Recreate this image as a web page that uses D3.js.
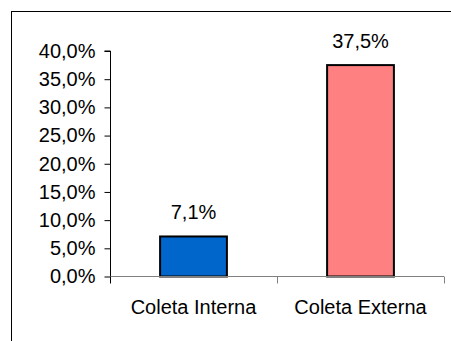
<!DOCTYPE html>
<html>
<head>
<meta charset="utf-8">
<script src="https://cdn.jsdelivr.net/npm/d3@7"></script>
<style>
  html, body { margin: 0; padding: 0; background: #fff; }
  svg { display: block; }
  text { font-family: "Liberation Sans", Arial, sans-serif; fill: #000; }
</style>
</head>
<body>
<svg id="chart" width="451" height="341"></svg>
<script>
const categories = ["Coleta Interna", "Coleta Externa"];
const values = [7.1, 37.5];
const barColors = ["#0066CC", "#FF8080"];
const yTicks = [0, 5, 10, 15, 20, 25, 30, 35, 40];

const W = 451, H = 341;
const svg = d3.select("#chart");
const fmt = v => d3.format(".1f")(v).replace(".", ",") + "%";

// outer frame (extends beyond the picture at right and bottom)
svg.append("rect")
  .attr("x", 11.5).attr("y", 11.5)
  .attr("width", 460).attr("height", 360)
  .attr("fill", "#fff").attr("stroke", "#000").attr("stroke-width", 1);

const plotLeft = 110, plotRight = 444, plotTop = 51, plotBottom = 276.5;

const y = d3.scaleLinear().domain([0, 40]).range([plotBottom, plotTop]);
const x = d3.scaleBand().domain(categories).range([plotLeft, plotRight])
  .paddingInner(0.6).paddingOuter(0.3);

// y axis
const yAxis = d3.axisLeft(y).tickValues(yTicks).tickFormat(fmt).tickSize(6).tickPadding(9);
const gy = svg.append("g").attr("transform", `translate(${plotLeft + 0.5},0)`).call(yAxis);
gy.select(".domain").attr("stroke", "#000").attr("d", `M-6,${y(40)}H0V${plotBottom}`);
gy.selectAll(".tick line").attr("stroke", "#000");
gy.selectAll(".tick text").attr("font-size", 20).attr("font-family", "Liberation Sans, Arial, sans-serif").attr("fill", "#000");

// bars
svg.append("g").selectAll("rect").data(values).join("rect")
  .attr("x", (d, i) => x(categories[i]))
  .attr("y", d => y(d))
  .attr("width", x.bandwidth())
  .attr("height", d => plotBottom - y(d))
  .attr("fill", (d, i) => barColors[i])
  .attr("stroke", "#000").attr("stroke-width", 2);

// x axis
const gx = svg.append("g");
gx.append("line")
  .attr("x1", plotLeft).attr("x2", plotRight)
  .attr("y1", plotBottom).attr("y2", plotBottom)
  .attr("stroke", "#808080").attr("stroke-width", 1);
const boundaries = [plotLeft, ...categories.map(c => x(c) + x.bandwidth() / 2 + x.step() / 2)];
gx.selectAll("line.tk").data(boundaries).join("line").attr("class", "tk")
  .attr("x1", d => Math.round(d) + 0.5).attr("x2", d => Math.round(d) + 0.5)
  .attr("y1", plotBottom).attr("y2", plotBottom + 7)
  .attr("stroke", (d, i) => i === 0 ? "#000" : "#808080");
gx.selectAll("text").data(categories).join("text")
  .attr("x", d => x(d) + x.bandwidth() / 2)
  .attr("y", 314)
  .attr("text-anchor", "middle")
  .attr("font-size", 20)
  .text(d => d);

// value labels
svg.append("g").selectAll("text").data(values).join("text")
  .attr("x", (d, i) => x(categories[i]) + x.bandwidth() / 2)
  .attr("y", d => y(d) - 17)
  .attr("text-anchor", "middle")
  .attr("font-size", 20)
  .text(d => fmt(d));
</script>
</body>
</html>
